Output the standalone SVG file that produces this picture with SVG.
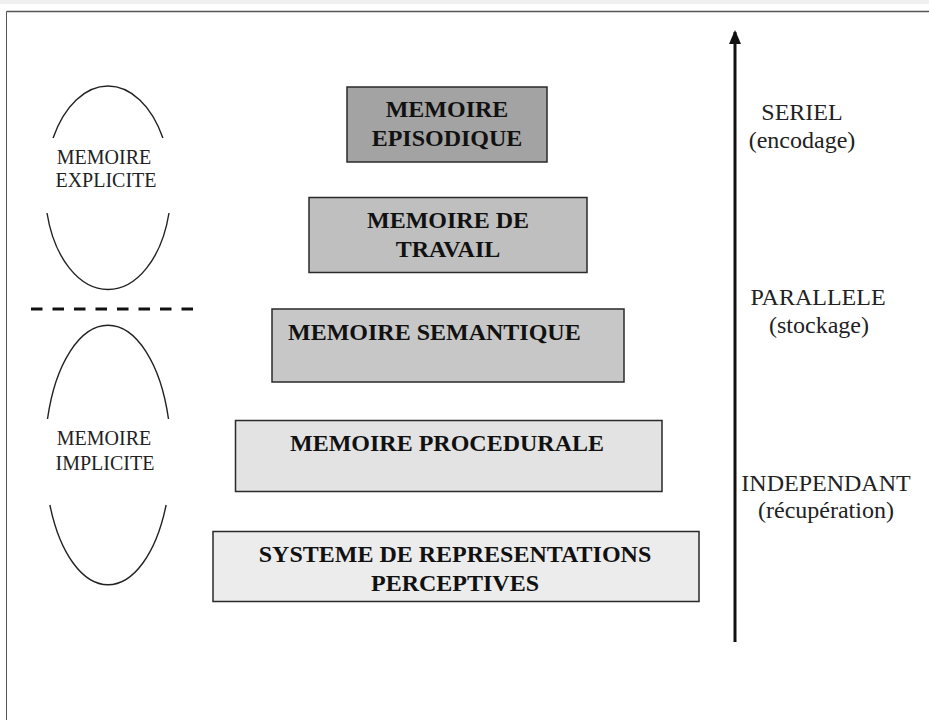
<svg xmlns="http://www.w3.org/2000/svg" width="929" height="720" viewBox="0 0 929 720">
<style>
.box{stroke:#2a2a2a;stroke-width:1.5}
.bt{font-family:"Liberation Serif","Times New Roman",serif;font-weight:bold;font-size:24px;fill:#111;text-anchor:middle}
.lt{font-family:"Liberation Serif","Times New Roman",serif;font-size:20px;fill:#222;text-anchor:middle}
.rt{font-family:"Liberation Serif","Times New Roman",serif;font-size:24px;fill:#222;text-anchor:middle}
.arc{fill:none;stroke:#222;stroke-width:1.4}
</style>
<defs>
<marker id="ah" markerWidth="14" markerHeight="12" refX="12" refY="6" orient="auto" markerUnits="userSpaceOnUse" viewBox="0 0 14 12">
<path d="M0,0 L14,6 L0,12 Z" fill="#111"/>
</marker>
</defs>
<rect x="0" y="0" width="929" height="720" fill="#fff"/>
<rect x="0" y="0" width="929" height="4" fill="#f0f0f0"/>
<g id="frame" fill="none" stroke="#555">
<line x1="6.5" y1="11.5" x2="929" y2="11.5" stroke-width="1.5"/>
<line x1="6.5" y1="11.5" x2="6.5" y2="720" stroke-width="1"/>
</g>
<g id="explicite">
<path class="arc" d="M53.1 138 A63 102 0 0 1 162.9 138"/>
<path class="arc" d="M47 213 A63 102 0 0 0 169 213"/>
<text class="lt" x="104" y="164">MEMOIRE</text>
<text class="lt" x="106" y="187">EXPLICITE</text>
</g>
<g id="separator">
<line x1="31" y1="309" x2="195" y2="309" stroke="#111" stroke-width="3" stroke-dasharray="11.5 10"/>
</g>
<g id="implicite">
<path class="arc" d="M47.5 419 A63 130 0 0 1 168.5 419"/>
<path class="arc" d="M49.9 505 A63 130 0 0 0 166.1 505"/>
<text class="lt" x="104" y="445">MEMOIRE</text>
<text class="lt" x="105" y="470">IMPLICITE</text>
</g>
<g id="episodique">
<rect class="box" x="347" y="87" width="200" height="75" fill="#a3a3a3"/>
<text class="bt" x="447" y="117">MEMOIRE</text>
<text class="bt" x="447" y="146">EPISODIQUE</text>
</g>
<g id="travail">
<rect class="box" x="309" y="197.5" width="278" height="75" fill="#bfbfbf"/>
<text class="bt" x="448" y="228">MEMOIRE DE</text>
<text class="bt" x="448" y="257">TRAVAIL</text>
</g>
<g id="semantique">
<rect class="box" x="272" y="309" width="352" height="73" fill="#c7c7c7"/>
<text class="bt" x="288" y="340" style="text-anchor:start">MEMOIRE SEMANTIQUE</text>
</g>
<g id="procedurale">
<rect class="box" x="235.5" y="420.5" width="426.5" height="71" fill="#e3e3e3"/>
<text class="bt" x="447" y="451">MEMOIRE PROCEDURALE</text>
</g>
<g id="pRS">
<rect class="box" x="213" y="531.5" width="486" height="70" fill="#ececec"/>
<text class="bt" x="455" y="562">SYSTEME DE REPRESENTATIONS</text>
<text class="bt" x="455" y="591">PERCEPTIVES</text>
</g>
<g id="connectors">
<line x1="735" y1="642" x2="735" y2="32" stroke="#111" stroke-width="3" marker-end="url(#ah)"/>
</g>
<g id="labels">
<text class="rt" x="802" y="120">SERIEL</text>
<text class="rt" x="802" y="148">(encodage)</text>
<text class="rt" x="818" y="305">PARALLELE</text>
<text class="rt" x="819" y="333">(stockage)</text>
<text class="rt" x="826" y="491">INDEPENDANT</text>
<text class="rt" x="826" y="518">(récupération)</text>
</g>
</svg>
